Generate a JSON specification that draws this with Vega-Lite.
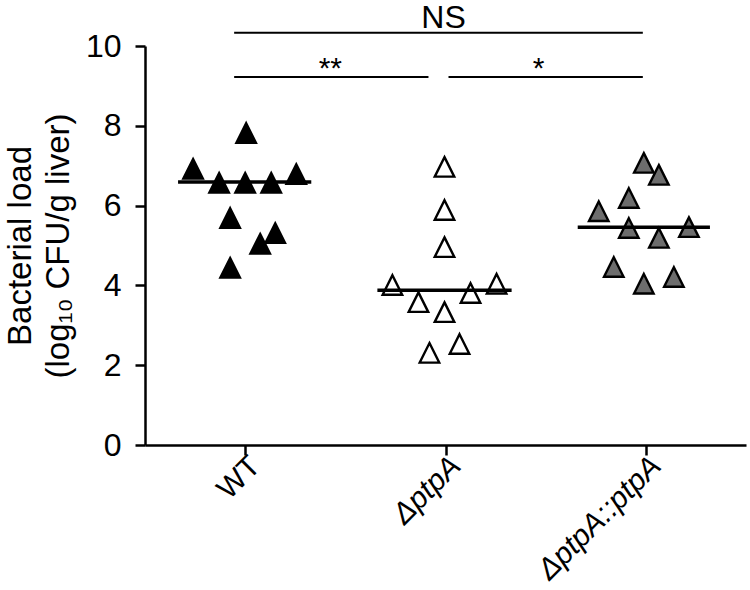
{
  "$schema": "https://vega.github.io/schema/vega-lite/v6.json",
  "autosize": "none",
  "padding": {"left": 145, "top": 46, "right": 4, "bottom": 145},
  "width": 601,
  "height": 399,
  "background": "white",
  "config": {
    "view": {"stroke": null},
    "font": "Liberation Sans",
    "axis": {"grid": false, "domainColor": "black", "tickColor": "black", "labelColor": "black", "titleColor": "black", "domainWidth": 2.5, "tickWidth": 2.5, "tickSize": 10, "labelFont": "Liberation Sans", "titleFont": "Liberation Sans"}
  },
  "datasets": {
    "points": [
      {"group": "WT", "x": 1.005, "y": 7.82},
      {"group": "WT", "x": 0.74, "y": 6.92},
      {"group": "WT", "x": 0.87, "y": 6.57},
      {"group": "WT", "x": 1.0, "y": 6.57},
      {"group": "WT", "x": 1.13, "y": 6.57},
      {"group": "WT", "x": 1.255, "y": 6.79},
      {"group": "WT", "x": 0.925, "y": 5.69},
      {"group": "WT", "x": 1.15, "y": 5.31},
      {"group": "WT", "x": 1.075, "y": 5.04},
      {"group": "WT", "x": 0.925, "y": 4.44},
      {"group": "ΔptpA", "x": 1.995, "y": 6.97},
      {"group": "ΔptpA", "x": 1.995, "y": 5.89},
      {"group": "ΔptpA", "x": 1.995, "y": 4.96},
      {"group": "ΔptpA", "x": 1.735, "y": 4.01},
      {"group": "ΔptpA", "x": 2.255, "y": 4.04},
      {"group": "ΔptpA", "x": 1.865, "y": 3.58},
      {"group": "ΔptpA", "x": 2.125, "y": 3.81},
      {"group": "ΔptpA", "x": 1.995, "y": 3.33},
      {"group": "ΔptpA", "x": 1.92, "y": 2.31},
      {"group": "ΔptpA", "x": 2.07, "y": 2.53},
      {"group": "ΔptpA::ptpA", "x": 2.99, "y": 7.07},
      {"group": "ΔptpA::ptpA", "x": 3.065, "y": 6.77},
      {"group": "ΔptpA::ptpA", "x": 2.915, "y": 6.19},
      {"group": "ΔptpA::ptpA", "x": 2.765, "y": 5.86},
      {"group": "ΔptpA::ptpA", "x": 2.915, "y": 5.44},
      {"group": "ΔptpA::ptpA", "x": 3.065, "y": 5.19},
      {"group": "ΔptpA::ptpA", "x": 3.215, "y": 5.46},
      {"group": "ΔptpA::ptpA", "x": 2.84, "y": 4.46},
      {"group": "ΔptpA::ptpA", "x": 3.14, "y": 4.21},
      {"group": "ΔptpA::ptpA", "x": 2.99, "y": 4.04}
    ],
    "medians": [
      {"group": "WT", "x": 0.665, "xend": 1.33, "y": 6.59},
      {"group": "ΔptpA", "x": 1.66, "xend": 2.33, "y": 3.88},
      {"group": "ΔptpA::ptpA", "x": 2.66, "xend": 3.32, "y": 5.46}
    ],
    "brackets": [
      {"comparison": "WT vs ΔptpA::ptpA", "x": 0.945, "xend": 2.985, "y": 10.33},
      {"comparison": "WT vs ΔptpA", "x": 0.945, "xend": 1.915, "y": 9.22},
      {"comparison": "ΔptpA vs ΔptpA::ptpA", "x": 2.015, "xend": 2.985, "y": 9.22}
    ],
    "ns": [
      {"x": 1.99, "y": 10.45, "label": "NS"}
    ],
    "stars": [
      {"x": 1.425, "y": 9.2, "label": "**"},
      {"x": 2.465, "y": 9.2, "label": "*"}
    ]
  },
  "encoding": {
    "x": {"field": "x", "type": "quantitative", "scale": {"domain": [0.5, 3.5], "nice": false, "zero": false},
      "axis": {"values": [1, 2, 3], "title": null, "labelAngle": -45, "labelFontSize": 30, "labelAlign": "right", "labelBaseline": "middle", "labelPadding": 6, "labelOffset": 10,
        "labelExpr": "datum.value == 1 ? 'WT' : datum.value == 2 ? 'ΔptpA' : 'ΔptpA::ptpA'",
        "labelFontStyle": {"condition": {"test": "datum.value == 1", "value": "normal"}, "value": "italic"}}},
    "y": {"field": "y", "type": "quantitative", "scale": {"domain": [0, 10], "nice": false},
      "axis": {"values": [0, 2, 4, 6, 8, 10], "labelFontSize": 32, "labelPadding": 14, "title": ["Bacterial load", "(log₁₀ CFU/g liver)"], "titleFontSize": 33, "titleFontWeight": "normal", "titleLineHeight": 38, "titlePadding": 10}}
  },
  "layer": [
    {
      "data": {"name": "points"},
      "mark": {"type": "point", "shape": "M0,-1L1,1L-1,1Z", "filled": true, "size": 380, "stroke": "black", "strokeWidth": 2.4, "opacity": 1, "clip": false},
      "encoding": {
        "fill": {"field": "group", "type": "nominal", "scale": {"domain": ["WT", "ΔptpA", "ΔptpA::ptpA"], "range": ["black", "white", "#6d6d6d"]}, "legend": null}
      }
    },
    {
      "data": {"name": "medians"},
      "mark": {"type": "rule", "color": "black", "strokeWidth": 3.5, "clip": false},
      "encoding": {"x2": {"field": "xend"}}
    },
    {
      "data": {"name": "brackets"},
      "mark": {"type": "rule", "color": "black", "strokeWidth": 2, "clip": false},
      "encoding": {"x2": {"field": "xend"}}
    },
    {
      "data": {"name": "ns"},
      "mark": {"type": "text", "fontSize": 32, "color": "black", "align": "center", "baseline": "alphabetic", "clip": false},
      "encoding": {"text": {"field": "label"}}
    },
    {
      "data": {"name": "stars"},
      "mark": {"type": "text", "fontSize": 30, "color": "black", "align": "center", "baseline": "alphabetic", "clip": false},
      "encoding": {"text": {"field": "label"}}
    }
  ]
}
